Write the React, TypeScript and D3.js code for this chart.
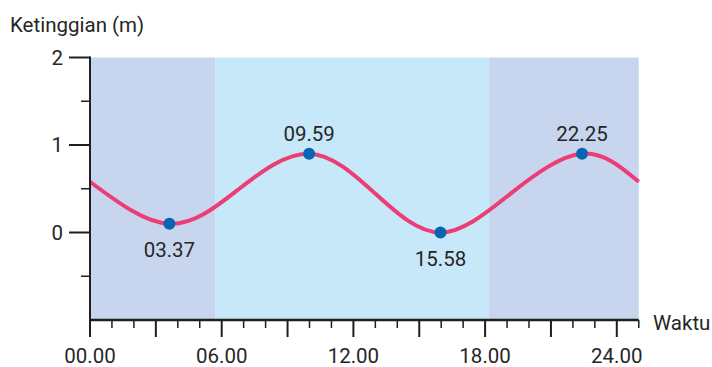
import React from "react";
import * as d3 from "d3";

// Data
const curveHours = [0, 3.617, 6.8, 9.983, 12.97, 15.967, 19.19, 22.417, 25.0];
const curveLevels = [0.58, 0.1, 0.5, 0.9, 0.45, 0.0, 0.45, 0.9, 0.58];
const extremeHours = [3.617, 9.983, 15.967, 22.417];
const extremeLevels = [0.1, 0.9, 0.0, 0.9];
const extremeLabels = ["03.37", "09.59", "15.58", "22.25"];
const extremeBelow = [true, false, true, false];
const bandStarts = [0, 5.7, 18.18];
const bandEnds = [5.7, 18.18, 25];
const bandKinds = ["night", "day", "night"];
const xTickValues = [0, 6, 12, 18, 24];
const xTickLabels = ["00.00", "06.00", "12.00", "18.00", "24.00"];
const yTickValues = [2, 1, 0];
const yTickLabels = ["2", "1", "0"];
const yMinorTicks = [1.5, 0.5, -0.5];

const W = 712;
const H = 367;
const FONT = "Roboto, 'Noto Sans', sans-serif";
const TEXT = "#262626";
const AXIS = "#1f1f1f";
const FS = 20.5;

export default function App() {
  const x = d3.scaleLinear().domain([0, 25]).range([90, 638.75]);
  const y = d3.scaleLinear().domain([-1, 2]).range([320, 57.5]);
  const line = d3
    .line<number>()
    .x((_, i) => x(curveHours[i]))
    .y((d) => y(d))
    .curve(d3.curveNatural);

  const allTicks = d3.range(0, 26, 1);

  return (
    <svg
      width={W}
      height={H}
      style={{ position: "absolute", left: 0, top: 0, fontFamily: FONT }}
    >
      <rect x={0} y={0} width={W} height={H} fill="#fff" />
      {bandStarts.map((s, i) => (
        <rect
          key={i}
          x={x(s)}
          y={y(2)}
          width={x(bandEnds[i]) - x(s)}
          height={y(-1) - y(2)}
          fill={bandKinds[i] === "night" ? "#c8d5ee" : "#c6e8f8"}
        />
      ))}
      <path
        d={line(curveLevels) || ""}
        fill="none"
        stroke="#ec3d74"
        strokeWidth={4}
        strokeLinecap="butt"
      />
      {extremeHours.map((h, i) => (
        <g key={i}>
          <circle cx={x(h)} cy={y(extremeLevels[i])} r={6} fill="#0b63b4" />
          <text
            x={x(h)}
            y={y(extremeLevels[i]) + (extremeBelow[i] ? 33 : -13)}
            textAnchor="middle"
            fontSize={FS}
            fill={TEXT}
          >
            {extremeLabels[i]}
          </text>
        </g>
      ))}
      {/* Y axis */}
      <line x1={x(0)} x2={x(0)} y1={y(2) - 1} y2={y(-1) + 1} stroke={AXIS} strokeWidth={2} />
      {yTickValues.map((v, i) => (
        <g key={v}>
          <line x1={69} x2={x(0)} y1={y(v)} y2={y(v)} stroke={AXIS} strokeWidth={2} />
          <text
            x={63}
            y={y(v)}
            dy="0.36em"
            textAnchor="end"
            fontSize={FS}
            fill={TEXT}
          >
            {yTickLabels[i]}
          </text>
        </g>
      ))}
      {yMinorTicks.map((v) => (
        <line key={v} x1={81} x2={x(0)} y1={y(v)} y2={y(v)} stroke={AXIS} strokeWidth={1.5} />
      ))}
      {/* X axis */}
      <line x1={x(0) - 1} x2={x(25)} y1={y(-1)} y2={y(-1)} stroke={AXIS} strokeWidth={2.5} />
      {allTicks.map((t) => (
        <line
          key={t}
          x1={x(t)}
          x2={x(t)}
          y1={y(-1)}
          y2={y(-1) + (t % 3 === 0 ? 17 : 8)}
          stroke={AXIS}
          strokeWidth={t % 3 === 0 ? 2 : 1.5}
        />
      ))}
      {xTickValues.map((t, i) => (
        <text key={t} x={x(t)} y={363} textAnchor="middle" fontSize={FS} fill={TEXT}>
          {xTickLabels[i]}
        </text>
      ))}
      <text x={653} y={330} fontSize={FS} fill={TEXT}>
        Waktu
      </text>
      <text x={10} y={32} fontSize={FS} fill={TEXT}>
        Ketinggian (m)
      </text>
    </svg>
  );
}
